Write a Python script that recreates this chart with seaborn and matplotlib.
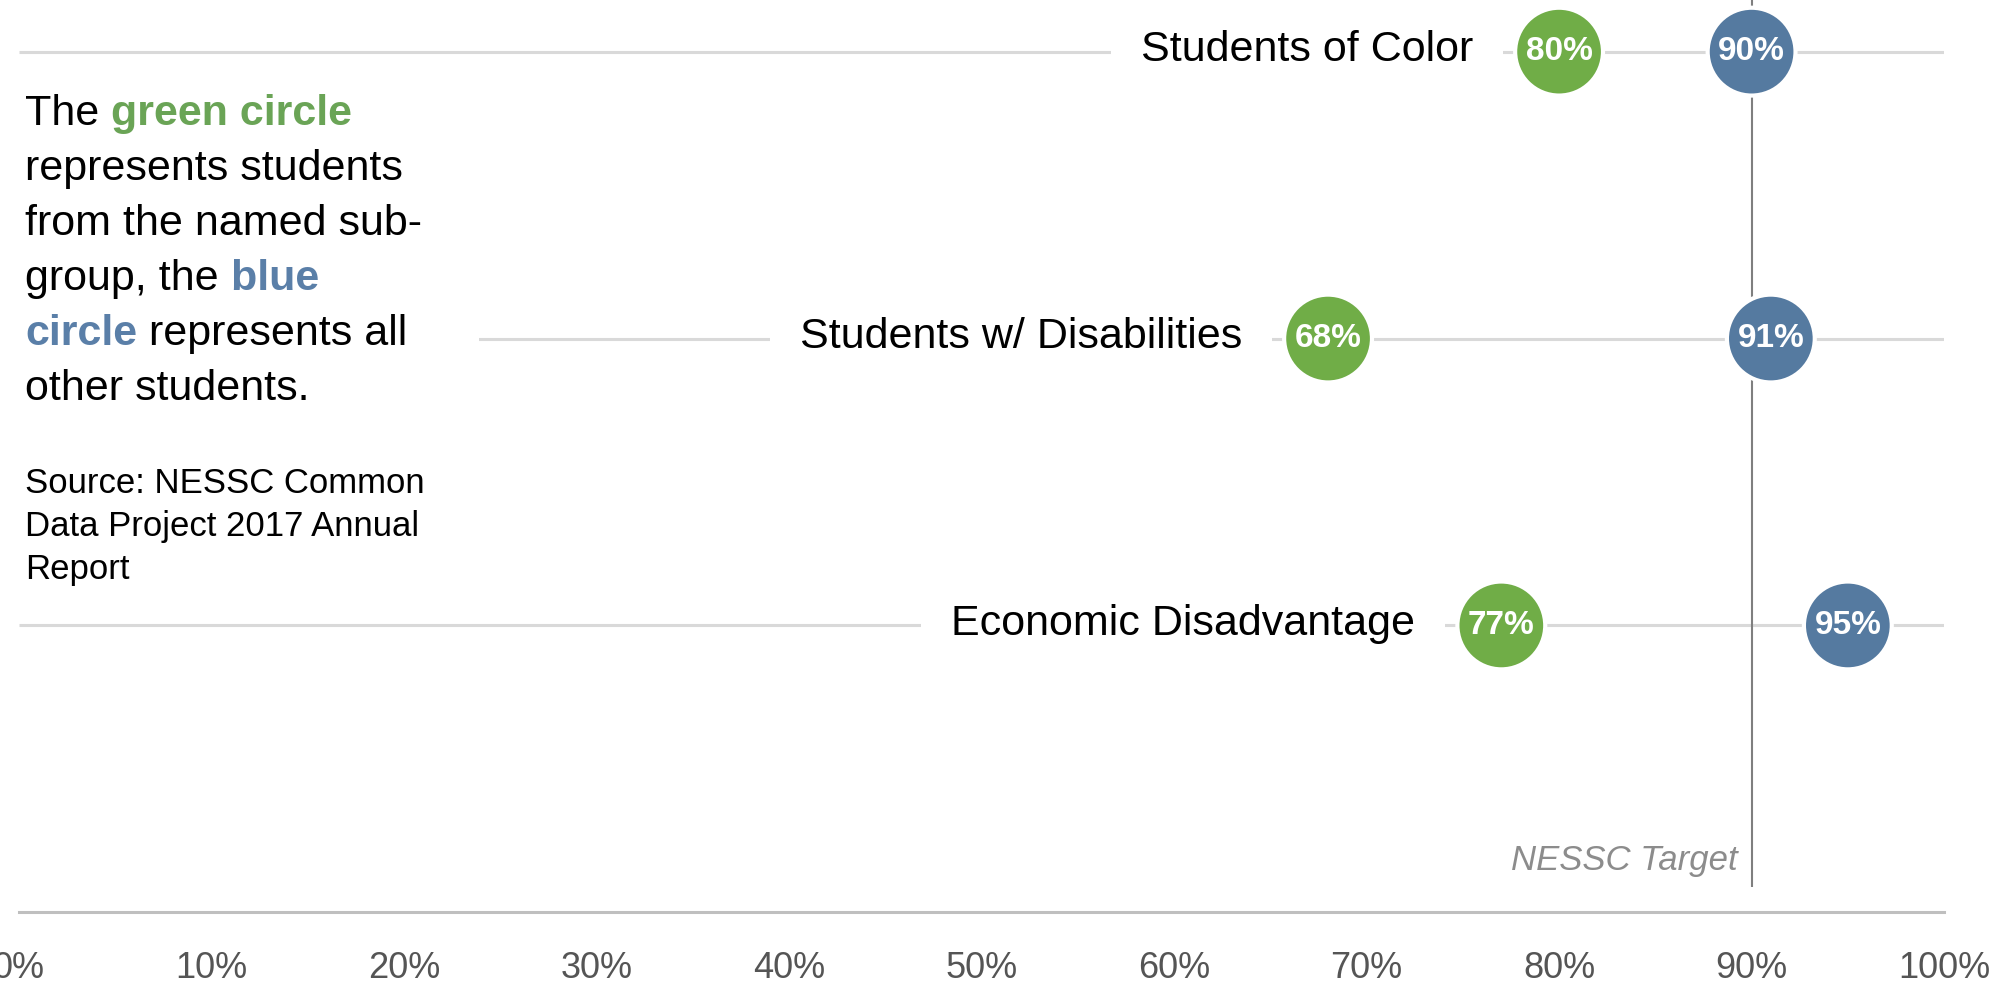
import numpy as np
import pandas as pd
import seaborn as sns
from matplotlib import pyplot as plt
from matplotlib.patches import Rectangle

# data
groups = ["Students of Color", "Students w/ Disabilities", "Economic Disadvantage"]
subgroup_pct = [80, 68, 77]      # green circles
others_pct = [90, 91, 95]        # blue circles
target_pct = 90
tick_pct = list(range(0, 101, 10))

green = "#70AD47"
blue = "#557AA0"
green_txt = "#6AA456"
blue_txt = "#5A7FA8"

sns.set_theme(style="white")
plt.rcParams["font.family"] = ["Liberation Sans", "DejaVu Sans"]

df = pd.DataFrame({
	"group": groups * 2,
	"pct": subgroup_pct + others_pct,
	"who": ["subgroup"] * len(groups) + ["others"] * len(groups),
})
df["row"] = df["group"].map({g: i for i, g in enumerate(groups)})

fig = plt.figure(figsize=(19.96, 9.96), dpi=100)
ax = fig.add_axes([0.0095, 0.084, 0.9645, 0.916])

# grey row lines and the target line
ax.hlines(range(len(groups)), 0, 100, color="#D9D9D9", lw=2.2, zorder=1)
ax.vlines(target_pct, -0.18, 2.91, color="#7F7F7F", lw=1.5, zorder=1)

sns.scatterplot(data=df, x="pct", y="row", hue="who",
				palette={"subgroup": green, "others": blue},
				s=4000, edgecolor="white", linewidth=3, legend=False,
				zorder=3, ax=ax)

for _, r in df.iterrows():
	ax.text(r["pct"], r["row"], "%d%%" % r["pct"], color="white", fontweight="bold",
			ha="center", va="center", fontsize=24, zorder=4)

# row labels left of the green circle, white box hides the row line
for i, g in enumerate(groups):
	ax.annotate(g, xy=(subgroup_pct[i], i), xytext=(-62, 1), textcoords="offset points",
				ha="right", va="center", fontsize=31, color="black",
				bbox=dict(boxstyle="square,pad=0.7", fc="white", ec="none"), zorder=2)

ax.annotate("NESSC Target", xy=(target_pct, 2.82), xytext=(-10, 0), textcoords="offset points",
			ha="right", va="center", fontsize=25, style="italic", color="#8C8C8C")

ax.set_xlim(0, 100)
ax.set_ylim(3.0, -0.18)
ax.set_xlabel("")
ax.set_ylabel("")
ax.set_yticks([])
ax.set_xticks(tick_pct)
ax.set_xticklabels(["%d%%" % t for t in tick_pct])
ax.tick_params(axis="x", length=0, pad=28, labelsize=26, labelcolor="#555555")
for s in ["top", "left", "right"]:
	ax.spines[s].set_visible(False)
ax.spines["bottom"].set_color("#BFBFBF")
ax.spines["bottom"].set_linewidth(2.2)

# white area behind the explanation text
ax.add_patch(Rectangle((0, 0.357), 0.239, 0.53, transform=ax.transAxes,
					   fc="white", ec="none", zorder=2))

# explanation text, mixed colours
note_lines = [
	[("The", "black", "normal"), (" green circle", green_txt, "bold")],
	[("represents students", "black", "normal")],
	[("from the named sub-", "black", "normal")],
	[("group, the", "black", "normal"), (" blue", blue_txt, "bold")],
	[("circle", blue_txt, "bold"), (" represents all", "black", "normal")],
	[("other students.", "black", "normal")],
]
x0 = 25 / 1996
for k, segs in enumerate(note_lines):
	yb = 1 - (125 + 55 * k) / 996
	prev = None
	for txt, col, w in segs:
		if prev is None:
			prev = fig.text(x0, yb, txt, color=col, fontweight=w, fontsize=31,
							ha="left", va="baseline", zorder=5)
		else:
			prev = ax.annotate(txt, xy=(1, 0), xycoords=prev, color=col, fontweight=w,
							   fontsize=31, ha="left", va="bottom", zorder=5,
							   annotation_clip=False)

source_lines = ["Source: NESSC Common", "Data Project 2017 Annual", "Report"]
for k, txt in enumerate(source_lines):
	fig.text(x0, 1 - (493 + 43 * k) / 996, txt, fontsize=25, color="black",
			 ha="left", va="baseline", zorder=5)

fig.savefig("out.png", dpi=100)
